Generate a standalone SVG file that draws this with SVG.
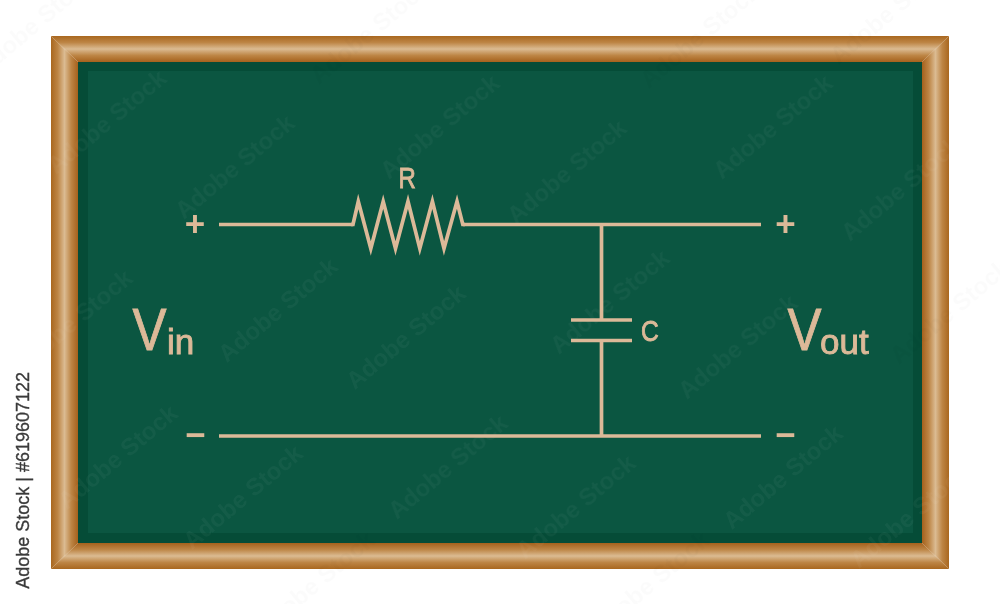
<svg xmlns="http://www.w3.org/2000/svg" width="1000" height="604" viewBox="0 0 1000 604">
<style>
.w{fill:none;stroke:#dcb998;stroke-width:3.7;stroke-linecap:butt;stroke-linejoin:miter;stroke-miterlimit:12}
.t{fill:#dcb998;stroke:#dcb998;stroke-width:.9;font-family:"Liberation Sans",Arial,sans-serif}
.s{fill:#dcb998;font-family:"Liberation Sans",Arial,sans-serif;font-size:35px;font-weight:bold;text-anchor:middle}
.wm{font-family:"Liberation Sans",Arial,sans-serif;font-size:24px;font-weight:bold;text-anchor:middle}
.wg{fill:#ffffff;opacity:.04}
.wo{fill:#000000;opacity:.018}
</style>
<defs>
<linearGradient id="gt" gradientUnits="userSpaceOnUse" x1="0" y1="36" x2="0" y2="62"><stop offset="0" stop-color="#a9671f"/><stop offset=".25" stop-color="#bd8545"/><stop offset=".5" stop-color="#dbbb92"/><stop offset=".75" stop-color="#bd8545"/><stop offset="1" stop-color="#a5611c"/></linearGradient>
<linearGradient id="gb" gradientUnits="userSpaceOnUse" x1="0" y1="569" x2="0" y2="543"><stop offset="0" stop-color="#a9671f"/><stop offset=".25" stop-color="#bd8545"/><stop offset=".5" stop-color="#dbbb92"/><stop offset=".75" stop-color="#bd8545"/><stop offset="1" stop-color="#a5611c"/></linearGradient>
<linearGradient id="gl" gradientUnits="userSpaceOnUse" x1="51" y1="0" x2="78" y2="0"><stop offset="0" stop-color="#a9671f"/><stop offset=".25" stop-color="#bd8545"/><stop offset=".5" stop-color="#dbbb92"/><stop offset=".75" stop-color="#bd8545"/><stop offset="1" stop-color="#a5611c"/></linearGradient>
<linearGradient id="gr" gradientUnits="userSpaceOnUse" x1="949" y1="0" x2="922" y2="0"><stop offset="0" stop-color="#a9671f"/><stop offset=".25" stop-color="#bd8545"/><stop offset=".5" stop-color="#dbbb92"/><stop offset=".75" stop-color="#bd8545"/><stop offset="1" stop-color="#a5611c"/></linearGradient>
<text id="mk" class="wm" transform="rotate(-40)">Adobe Stock</text>
</defs>
<rect width="1000" height="604" fill="#ffffff"/>
<g id="frame">
<polygon points="51,36 949,36 922,62 78,62" fill="url(#gt)"/>
<polygon points="51,569 949,569 922,543 78,543" fill="url(#gb)"/>
<polygon points="51,36 78,62 78,543 51,569" fill="url(#gl)"/>
<polygon points="949,36 922,62 922,543 949,569" fill="url(#gr)"/>
<rect x="78" y="62" width="844" height="481" fill="#054c37"/>
<rect x="88" y="71" width="825" height="462" fill="#0b5641"/>
</g>
<g id="watermark" class="wg">
<use href="#mk" x="112" y="128"/><use href="#mk" x="240" y="173"/><use href="#mk" x="445" y="133"/><use href="#mk" x="572" y="178"/><use href="#mk" x="778" y="133"/><use href="#mk" x="906" y="195"/>
<use href="#mk" x="283" y="316"/><use href="#mk" x="411" y="343"/><use href="#mk" x="615" y="308"/><use href="#mk" x="743" y="353"/><use href="#mk" x="78" y="328"/>
<use href="#mk" x="123" y="463"/><use href="#mk" x="248" y="503"/><use href="#mk" x="453" y="473"/><use href="#mk" x="581" y="513"/><use href="#mk" x="788" y="483"/><use href="#mk" x="915" y="522"/>
</g>
<g id="watermark-white" class="wo">
<use href="#mk" x="40" y="30"/><use href="#mk" x="375" y="38"/><use href="#mk" x="705" y="42"/><use href="#mk" x="895" y="18"/><use href="#mk" x="955" y="318"/><use href="#mk" x="320" y="590"/><use href="#mk" x="655" y="590"/>
</g>
<g id="connectors">
<path class="w" d="M219 224.500H353"/>
<path class="w" d="M463 224.500H761"/>
<path class="w" d="M219 436H761"/>
<path class="w" d="M601.500 224.500V320"/>
<path class="w" d="M601.500 340.500V436"/>
</g>
<g id="resistor">
<path class="w" d="M351 224.500H353L358.300 201.500L370.800 248.500L383.200 201.500L395.500 248.500L408 201.500L419.800 248.500L432.400 201.500L444 248.500L457 201.500L462.800 224.500H465"/>
<text class="t" font-size="30" transform="translate(398.500 188) scale(.8 1)">R</text>
</g>
<g id="capacitor">
<path class="w" d="M571 320H632M571 340.500H632"/>
<text class="t" font-size="30" transform="translate(641 340.500) scale(.82 1)">C</text>
</g>
<g id="vin">
<text class="s" x="195" y="236">+</text>
<text class="s" x="195.500" y="447">−</text>
<text class="t" font-size="60" transform="translate(132.500 350) scale(.85 1)">V</text>
<text class="t" font-size="35" x="167" y="353.500">in</text>
</g>
<g id="vout">
<text class="s" x="785.500" y="236">+</text>
<text class="s" x="785.500" y="447">−</text>
<text class="t" font-size="60" transform="translate(787.500 350) scale(.85 1)">V</text>
<text class="t" font-size="35" x="820" y="353.500">out</text>
</g>
<text id="credit" transform="translate(29 372) rotate(-90)" text-anchor="end" font-family="'Liberation Sans',Arial,sans-serif" font-size="18" stroke="#3a3a3a" stroke-width=".3" fill="#3a3a3a">Adobe Stock | #619607122</text>
</svg>
